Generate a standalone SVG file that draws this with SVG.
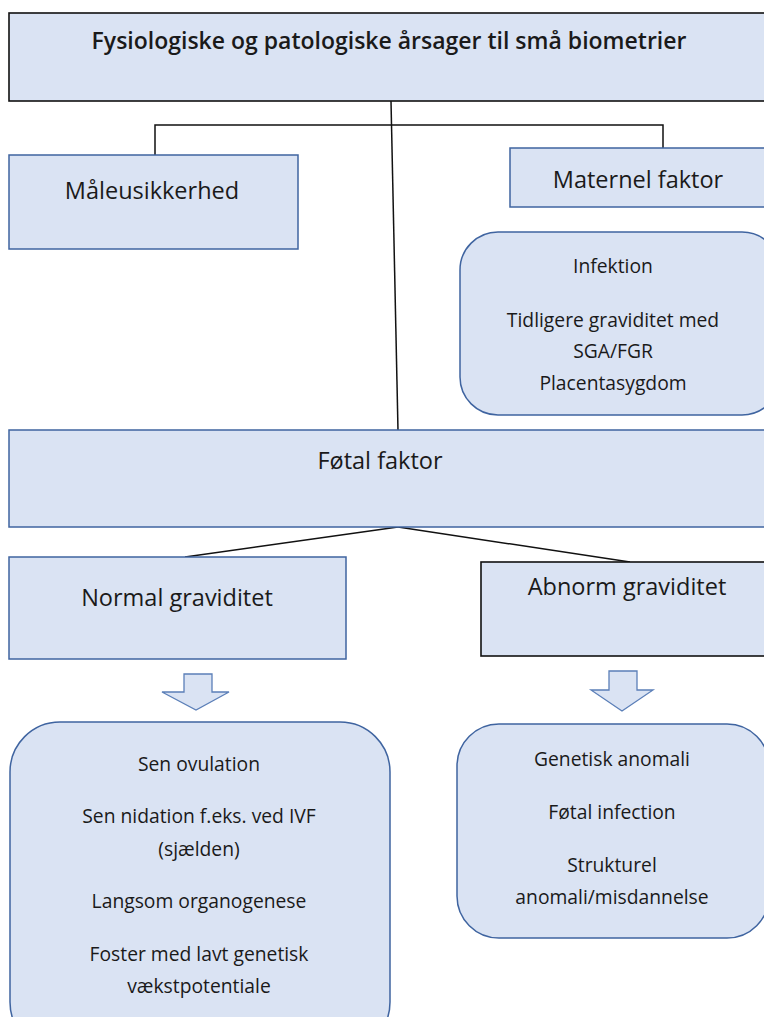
<svg xmlns="http://www.w3.org/2000/svg" width="764" height="1017" viewBox="0 0 764 1017">
<style>
.box{fill:#dae3f3;stroke:#3f64a0;stroke-width:1.5}
.bbox{fill:#dae3f3;stroke:#111;stroke-width:1.6}
.line{fill:none;stroke:#111;stroke-width:1.5}
.arr{fill:#dae3f3;stroke:#5b7fb8;stroke-width:1.3}
text{font-family:"Open Sans","Liberation Sans",sans-serif;fill:#1a1a1a;text-anchor:middle}
.t1{font-size:23px;font-weight:600}
.t2{font-size:23.5px}
.t3{font-size:19.3px}
</style>
<rect width="764" height="1017" fill="#fff"/>
<g id="connectors">
<line class="line" x1="391" y1="101" x2="398" y2="430"/>
<polyline class="line" points="155,155 155,125 663,125 663,148"/>
<line class="line" x1="398" y1="527" x2="185" y2="557"/>
<line class="line" x1="398" y1="527" x2="630" y2="562"/>
</g>
<g id="title">
<rect class="bbox" x="9" y="13" width="765" height="88"/>
<text class="t1" x="389" y="49">Fysiologiske og patologiske årsager til små biometrier</text>
</g>
<g id="maaleusikkerhed">
<rect class="box" x="9" y="155" width="289" height="94"/>
<text class="t2" x="152" y="199">Måleusikkerhed</text>
</g>
<g id="maternel">
<rect class="box" x="510" y="148" width="264" height="59"/>
<text class="t2" x="638" y="188">Maternel faktor</text>
</g>
<g id="maternel-list">
<rect class="box" x="460" y="232" width="320" height="183" rx="38" ry="38"/>
<text class="t3" x="613" y="273">Infektion</text>
<text class="t3" x="613" y="327">Tidligere graviditet med</text>
<text class="t3" x="613" y="358">SGA/FGR</text>
<text class="t3" x="613" y="390">Placentasygdom</text>
</g>
<g id="foetal">
<rect class="box" x="9" y="430" width="765" height="97"/>
<text class="t2" x="380" y="469">Føtal faktor</text>
</g>
<g id="normal">
<rect class="box" x="9" y="557" width="337" height="102"/>
<text class="t2" x="177" y="606">Normal graviditet</text>
</g>
<g id="abnorm">
<rect class="bbox" x="481" y="562" width="293" height="94"/>
<text class="t2" x="627" y="595">Abnorm graviditet</text>
</g>
<g id="arrow-left">
<polygon class="arr" points="184,674 212,674 212,692 229,692 196,710 162,692 184,692"/>
</g>
<g id="arrow-right">
<polygon class="arr" points="609,671 637,671 637,690 653,690 622,711 591,690 609,690"/>
</g>
<g id="normal-list">
<rect class="box" x="10" y="722" width="380" height="330" rx="50" ry="50"/>
<text class="t3" x="199" y="771">Sen ovulation</text>
<text class="t3" x="199" y="823">Sen nidation f.eks. ved IVF</text>
<text class="t3" x="199" y="856">(sjælden)</text>
<text class="t3" x="199" y="908">Langsom organogenese</text>
<text class="t3" x="199" y="961">Foster med lavt genetisk</text>
<text class="t3" x="199" y="993">vækstpotentiale</text>
</g>
<g id="abnorm-list">
<rect class="box" x="457" y="724" width="312" height="214" rx="42" ry="42"/>
<text class="t3" x="612" y="766">Genetisk anomali</text>
<text class="t3" x="612" y="819">Føtal infection</text>
<text class="t3" x="612" y="872">Strukturel</text>
<text class="t3" x="612" y="904">anomali/misdannelse</text>
</g>
</svg>
